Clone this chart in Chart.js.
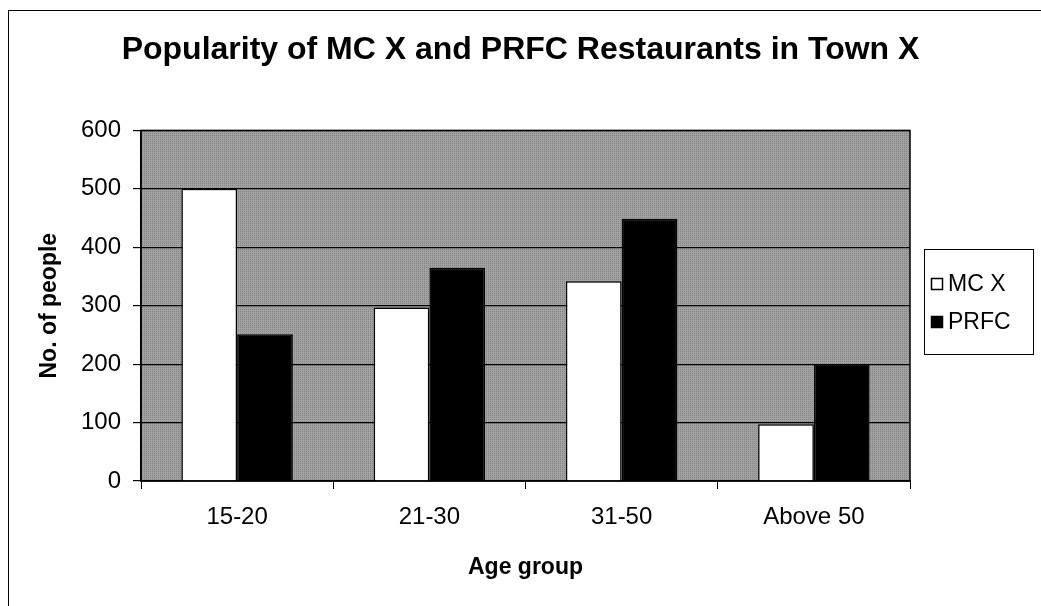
<!DOCTYPE html>
<html>
<head>
<meta charset="utf-8">
<script src="https://cdn.jsdelivr.net/npm/chart.js@4/dist/chart.umd.min.js"></script>
<style>
html,body{margin:0;padding:0;background:#fff;}
#wrap{width:1041px;height:606px;position:relative;}
</style>
</head>
<body>
<div id="wrap"><canvas id="c" width="1041" height="606"></canvas></div>
<script>
const titleText = "Popularity of MC X and PRFC Restaurants in Town X";
const categories = ["15-20", "21-30", "31-50", "Above 50"];
const seriesNames = ["MC X", "PRFC"];
const mcxValues = [500, 297, 342, 97];
const prfcValues = [251, 365, 449, 200];
const yTicks = [0, 100, 200, 300, 400, 500, 600];
const xAxisTitle = "Age group";
const yAxisTitle = "No. of people";

const FONT = "'Liberation Sans', Arial, sans-serif";

const decor = {
  id: 'decor',
  beforeDraw(chart) {
    const {ctx, chartArea: a} = chart;
    ctx.save();
    ctx.fillStyle = '#ffffff';
    ctx.fillRect(0, 0, chart.width, chart.height);
    ctx.fillStyle = '#a2a2a2';
    ctx.fillRect(a.left, a.top, a.right - a.left, a.bottom - a.top);
    ctx.fillStyle = 'rgba(50,50,50,0.28)';
    for (let y = Math.ceil(a.top); y < a.bottom; y += 2) {
      for (let x = Math.ceil(a.left) + (y % 4 === 0 ? 0 : 1); x < a.right; x += 2) {
        ctx.fillRect(x, y, 1, 1);
      }
    }
    ctx.restore();
  },
  afterDraw(chart) {
    const {ctx, chartArea: a} = chart;
    ctx.save();
    ctx.strokeStyle = '#000';
    ctx.lineWidth = 1.5;
    ctx.strokeRect(a.left, a.top, a.right - a.left, a.bottom - a.top);
    ctx.lineWidth = 1;
    ctx.strokeRect(8.5, 10.5, 1040, 620);
    // legend
    const lx = 924, ly = 249, lw = 109, lh = 105;
    ctx.fillStyle = '#fff';
    ctx.fillRect(lx, ly, lw, lh);
    ctx.strokeStyle = '#000';
    ctx.lineWidth = 1;
    ctx.strokeRect(lx + 0.5, ly + 0.5, lw, lh);
    const ds = chart.data.datasets;
    ctx.font = '23px ' + FONT;
    ctx.textBaseline = 'middle';
    ds.forEach((d, i) => {
      const cy = ly + 35 + i * 38;
      ctx.fillStyle = d.backgroundColor;
      ctx.fillRect(931, cy - 6, 12, 12);
      ctx.strokeStyle = '#000';
      ctx.lineWidth = 1.5;
      ctx.strokeRect(931.5, cy - 5.5, 11, 11);
      ctx.fillStyle = '#000';
      ctx.fillText(d.label, 948, cy + 1);
    });
    ctx.restore();
  }
};

new Chart(document.getElementById('c'), {
  type: 'bar',
  data: {
    labels: categories,
    datasets: [
      {label: seriesNames[0], data: mcxValues, backgroundColor: '#ffffff', borderColor: '#000', borderWidth: 1.5, yAxisID: 'y'},
      {label: seriesNames[1], data: prfcValues, backgroundColor: '#000000', borderColor: '#000', borderWidth: 1.5, yAxisID: 'y'}
    ]
  },
  options: {
    responsive: false,
    animation: false,
    events: [],
    layout: {padding: {left: 0, right: 0, top: 0, bottom: 0}},
    datasets: {bar: {categoryPercentage: 0.58, barPercentage: 1.0}},
    plugins: {
      legend: {display: false},
      tooltip: {enabled: false},
      title: {
        display: true,
        text: titleText,
        color: '#000',
        font: {family: FONT, size: 32, weight: 'bold'},
        padding: {top: 31, bottom: 61}
      }
    },
    scales: {
      x: {
        afterFit(s) { s.height = 125; },
        grid: {display: true, drawOnChartArea: false, drawTicks: true, tickLength: 8, color: '#000', offset: true},
        border: {display: true, color: '#000', width: 1.5},
        ticks: {color: '#000', font: {family: FONT, size: 24}, padding: 14, maxRotation: 0},
        title: {display: true, text: xAxisTitle, color: '#000', font: {family: FONT, size: 23, weight: 'bold'}, padding: {top: 0, bottom: 25}}
      },
      y: {
        min: 0, max: 600,
        afterFit(s) { s.width = 141; },
        afterBuildTicks(s) { s.ticks = yTicks.map(v => ({value: v})); },
        grid: {color: '#000', lineWidth: 1.2, tickLength: 8, drawTicks: true},
        border: {display: true, color: '#000', width: 1.5},
        ticks: {color: '#000', font: {family: FONT, size: 24}, padding: 12},
        title: {display: true, text: yAxisTitle, color: '#000', font: {family: FONT, size: 23, weight: 'bold'}, padding: {top: 36}}
      },
      legendSpace: {
        position: 'right',
        display: true,
        afterFit(s) { s.width = 131; },
        grid: {display: false},
        border: {display: false},
        ticks: {display: false}
      }
    }
  },
  plugins: [decor]
});
</script>
</body>
</html>
